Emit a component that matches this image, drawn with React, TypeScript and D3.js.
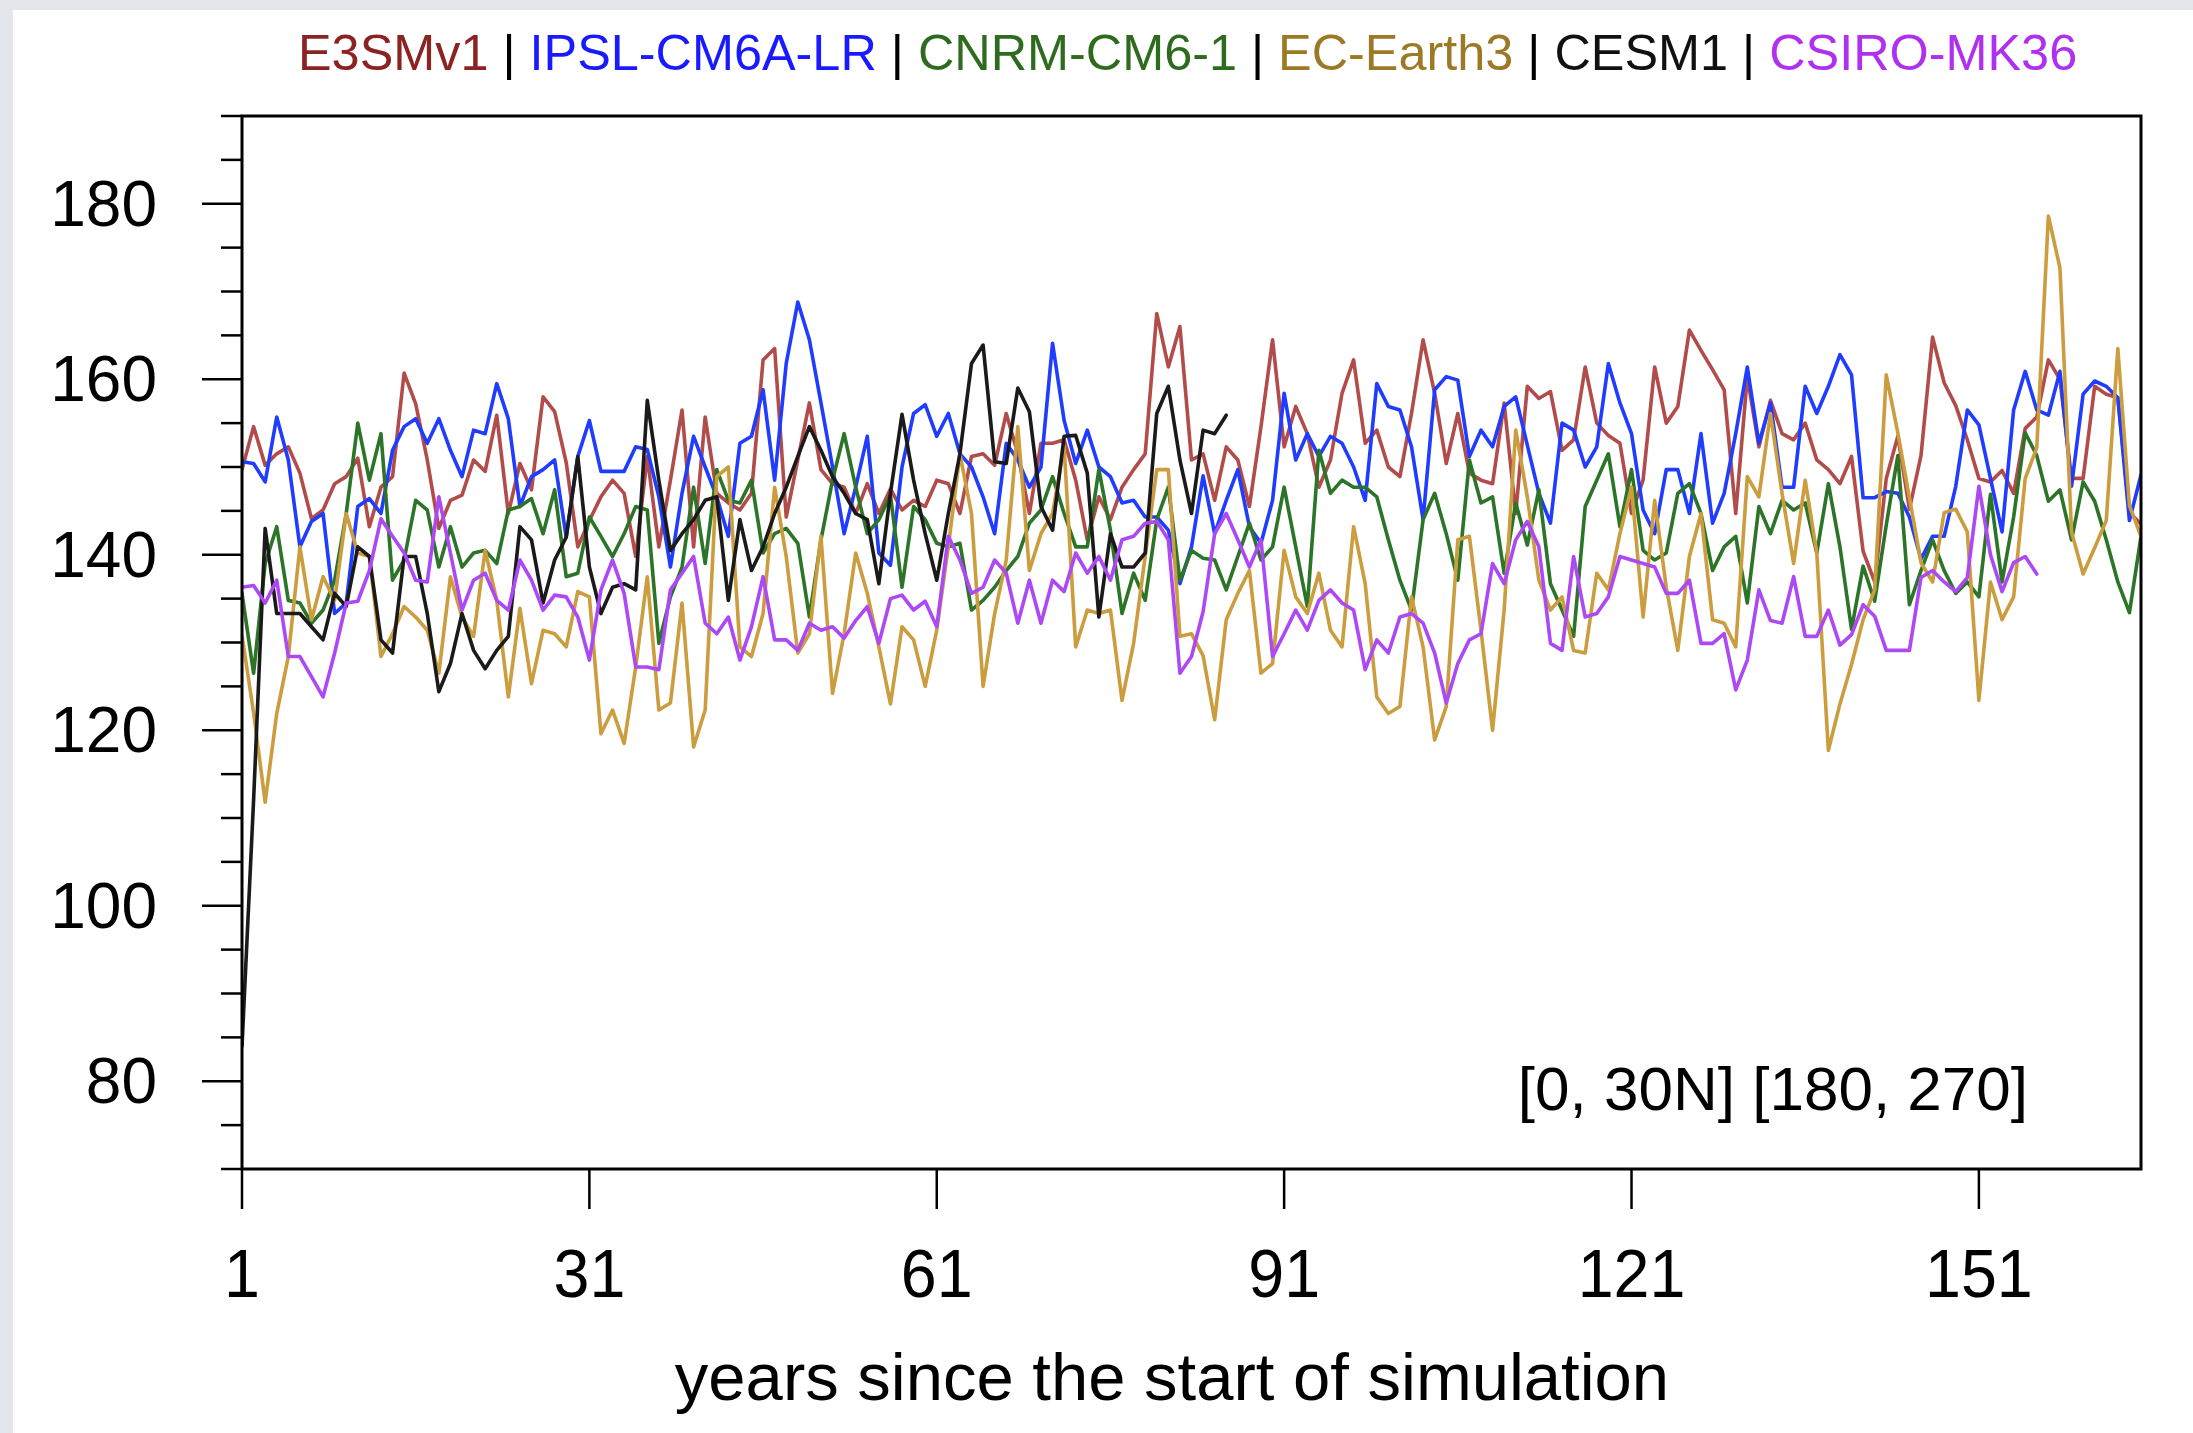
import React from 'react';
import * as d3 from 'd3';

// annual series, year 1 first
const e3smv1 = [
  149.7, 154.6, 150.2, 151.5, 152.3, 149.3, 144.1, 145.1, 148.1, 148.9,
  151.0, 143.2, 147.7, 148.9, 160.7, 157.2, 150.8, 143.0, 146.2, 146.8,
  150.8, 149.5, 155.9, 144.7, 150.4, 147.4, 158.0, 156.3, 150.5, 140.9,
  143.9, 146.6, 148.5, 147.0, 139.8, 151.2, 140.9, 148.5, 156.5, 140.9,
  155.7, 147.0, 145.9, 145.1, 147.0, 162.2, 163.5, 144.3, 150.8, 157.3,
  149.7, 148.1, 147.7, 144.7, 148.1, 144.7, 147.5, 145.1, 146.2, 145.5,
  148.5, 148.1, 144.7, 151.2, 151.5, 150.2, 156.1, 151.5, 144.7, 152.7,
  152.7, 153.1, 148.5, 141.7, 146.6, 144.0, 147.7, 149.7, 151.5, 167.5,
  161.4, 166.0, 150.8, 151.5, 146.2, 152.3, 150.8, 145.5, 154.6, 164.5,
  152.3, 156.9, 153.8, 147.7, 150.8, 158.4, 162.2, 152.7, 154.2, 150.0,
  148.9, 156.1, 164.5, 158.4, 150.4, 156.1, 149.3, 148.5, 148.1, 157.3,
  144.7, 159.2, 157.8, 158.6, 151.9, 153.1, 161.4, 155.0, 153.6, 152.7,
  144.7, 148.5, 161.4, 155.0, 156.9, 165.6, 163.3, 161.1, 158.8, 144.7,
  160.3, 152.3, 157.6, 153.8, 153.1, 155.0, 150.8, 149.7, 148.1, 151.2,
  140.4, 136.9, 148.7, 153.5, 145.2, 151.3, 164.8, 159.6, 157.0, 153.1,
  148.7, 148.3, 149.6, 147.0, 154.4, 155.7, 162.2, 160.0, 148.7, 148.7,
  159.2, 158.3, 157.9, 144.8, 143.5,
];

const ipslCm6aLr = [
  150.6, 150.4, 148.3, 155.7, 150.8, 140.9, 143.8, 144.7, 133.3, 134.5,
  145.5, 146.4, 144.7, 151.9, 154.6, 155.5, 152.7, 155.5, 151.9, 148.9,
  154.2, 153.8, 159.5, 155.5, 145.5, 148.9, 149.7, 150.8, 142.0, 151.2,
  155.3, 149.5, 149.5, 149.5, 152.3, 152.0, 146.6, 138.6, 147.0, 153.5,
  150.0, 146.6, 142.1, 152.7, 153.5, 158.8, 148.5, 161.8, 168.8, 164.5,
  157.3, 150.0, 142.4, 147.7, 153.5, 140.2, 138.8, 150.0, 156.1, 157.1,
  153.5, 156.1, 151.5, 150.0, 146.6, 142.4, 152.7, 150.8, 147.7, 150.0,
  164.1, 155.3, 150.4, 154.2, 150.0, 148.9, 145.9, 146.2, 144.3, 144.3,
  142.8, 136.7, 140.9, 149.0, 142.4, 146.2, 149.7, 143.2, 141.3, 146.2,
  158.4, 150.8, 153.8, 151.2, 153.5, 152.7, 150.0, 146.2, 159.5, 156.9,
  156.5, 152.3, 144.0, 158.8, 160.3, 159.9, 151.2, 154.2, 152.3, 156.9,
  158.0, 152.5, 147.0, 143.6, 155.0, 154.2, 150.0, 152.3, 161.8, 157.3,
  153.8, 145.1, 142.4, 149.7, 149.7, 144.7, 153.8, 143.6, 147.0, 153.8,
  161.4, 152.7, 157.3, 147.7, 147.7, 159.2, 156.1, 159.2, 162.8, 160.5,
  146.5, 146.5, 147.2, 147.0, 144.3, 139.5, 142.1, 142.1, 147.8, 156.5,
  154.8, 148.7, 142.6, 156.5, 160.9, 156.5, 155.9, 160.9, 147.8, 158.3,
  159.8, 159.2, 157.9, 143.9, 149.1,
];

const cnrmCm61 = [
  135.6, 126.5, 139.0, 143.2, 134.8, 134.5, 132.2, 133.7, 137.1, 144.7,
  155.0, 148.5, 153.8, 137.1, 139.4, 146.2, 145.1, 138.6, 143.2, 138.6,
  140.2, 140.5, 139.0, 145.1, 145.5, 146.4, 142.4, 147.4, 137.5, 137.9,
  144.3, 142.1, 139.8, 142.4, 145.5, 145.1, 129.9, 135.2, 138.6, 147.7,
  139.0, 149.7, 146.2, 145.9, 148.5, 140.2, 142.4, 143.0, 141.3, 132.9,
  141.7, 148.5, 153.8, 147.7, 142.4, 144.0, 146.8, 136.3, 145.5, 144.0,
  141.3, 140.9, 141.3, 133.7, 134.8, 136.3, 138.2, 139.8, 143.6, 145.1,
  148.9, 144.7, 140.9, 140.9, 149.7, 142.8, 133.3, 137.9, 134.8, 144.0,
  147.7, 137.1, 140.5, 139.6, 139.4, 136.0, 139.8, 143.6, 139.4, 140.9,
  147.7, 140.9, 134.1, 151.9, 147.0, 148.5, 147.7, 147.7, 146.6, 141.7,
  137.1, 133.7, 144.0, 147.0, 142.4, 137.1, 150.8, 145.9, 146.6, 137.9,
  145.9, 141.1, 147.4, 136.7, 133.7, 130.7, 145.5, 148.5, 151.5, 143.2,
  149.7, 140.5, 139.4, 140.2, 147.0, 148.1, 144.7, 138.2, 140.9, 142.1,
  134.5, 145.5, 142.4, 146.2, 145.1, 145.9, 140.2, 148.1, 140.9, 131.5,
  138.7, 134.7, 143.4, 151.3, 134.3, 138.2, 141.7, 138.2, 135.6, 136.9,
  135.2, 146.9, 136.9, 144.3, 153.9, 151.3, 146.1, 147.4, 141.7, 148.3,
  146.1, 141.7, 136.9, 133.4, 142.1,
];

const ecEarth3 = [
  130.8, 122.0, 111.8, 121.9, 128.4, 140.9, 132.6, 137.5, 134.8, 144.7,
  140.2, 139.8, 128.4, 131.0, 134.1, 132.9, 131.4, 126.5, 137.5, 132.9,
  130.7, 140.5, 134.8, 123.8, 133.9, 125.3, 131.4, 131.0, 129.5, 135.8,
  135.2, 119.6, 122.3, 118.5, 127.2, 137.5, 122.3, 123.1, 134.5, 118.1,
  122.3, 148.9, 150.0, 129.5, 128.4, 133.3, 147.7, 139.8, 128.8, 131.0,
  142.1, 124.2, 131.0, 140.2, 135.6, 129.5, 123.0, 131.8, 130.3, 125.0,
  131.4, 140.9, 151.5, 144.7, 125.0, 133.3, 139.4, 154.6, 138.2, 142.4,
  144.7, 152.3, 129.5, 133.7, 133.3, 133.7, 123.4, 129.9, 139.8, 149.7,
  149.7, 130.7, 131.0, 128.5, 121.2, 132.6, 135.6, 138.2, 126.5, 127.6,
  140.5, 135.2, 133.3, 137.9, 131.4, 129.5, 143.2, 136.7, 123.8, 121.9,
  122.7, 135.2, 129.5, 118.9, 122.7, 141.7, 142.1, 131.4, 120.0, 133.7,
  154.2, 146.6, 137.1, 133.7, 135.2, 129.1, 128.8, 137.9, 136.0, 142.4,
  147.7, 132.9, 146.2, 136.3, 129.1, 139.8, 144.7, 132.6, 132.2, 129.5,
  148.9, 146.6, 156.1, 147.0, 139.0, 148.5, 140.2, 117.7, 123.0, 127.5,
  132.6, 136.0, 160.5, 153.9, 146.5, 139.1, 136.9, 144.8, 145.2, 142.6,
  123.4, 136.9, 132.6, 135.2, 148.7, 152.2, 178.6, 172.7, 142.6, 137.8,
  140.8, 143.9, 163.5, 145.6, 142.1,
];

const cesm1 = [
  84.0, 112.0, 143.0, 133.3, 133.3, 133.3, 131.8, 130.3, 135.6, 134.1,
  140.9, 139.8, 130.3, 128.8, 139.8, 139.8, 133.3, 124.4, 127.6, 133.3,
  129.1, 127.0, 129.1, 130.7, 143.2, 141.7, 134.5, 139.4, 142.0, 151.2,
  138.6, 133.3, 136.3, 136.7, 136.0, 157.6, 148.5, 140.5, 142.4, 144.0,
  146.2, 146.6, 134.8, 144.0, 138.2, 140.9, 144.7, 147.7, 151.2, 154.6,
  151.9, 148.9, 147.0, 144.7, 144.0, 136.7, 147.0, 156.0, 148.5, 142.4,
  137.1, 144.7, 151.5, 161.8, 163.9, 150.6, 150.4, 159.0, 156.3, 145.5,
  142.8, 153.5, 153.6, 149.3, 132.9, 142.4, 138.6, 138.6, 140.2, 156.1,
  159.2, 150.8, 144.7, 154.2, 153.8, 155.9,
];

const csiroMk36 = [
  136.3, 136.5, 134.5, 137.1, 128.4, 128.4, 126.1, 123.8, 128.8, 134.5,
  134.7, 138.2, 144.1, 142.1, 140.2, 137.1, 136.9, 146.6, 140.2, 133.7,
  137.1, 137.9, 134.8, 133.7, 139.4, 137.1, 133.7, 135.4, 135.2, 132.9,
  128.0, 136.0, 139.4, 135.6, 127.2, 127.2, 126.9, 136.0, 137.9, 139.8,
  132.2, 131.0, 132.9, 128.0, 131.8, 137.5, 130.3, 130.3, 129.1, 132.2,
  131.4, 131.8, 130.5, 132.5, 134.1, 129.9, 135.0, 135.4, 133.7, 134.7,
  131.8, 142.1, 139.4, 135.6, 136.3, 139.4, 137.9, 132.2, 137.1, 132.2,
  137.1, 135.8, 140.2, 137.9, 139.8, 137.1, 141.7, 142.1, 143.6, 143.8,
  141.7, 126.5, 128.4, 133.5, 142.4, 144.7, 141.7, 138.6, 141.7, 128.4,
  131.0, 133.7, 131.4, 134.8, 136.0, 134.5, 133.7, 126.9, 130.3, 128.8,
  132.9, 133.3, 132.2, 128.8, 123.1, 127.6, 130.3, 131.0, 139.0, 136.7,
  141.7, 143.8, 140.9, 129.9, 129.1, 139.8, 132.9, 133.3, 135.2, 139.8,
  139.4, 139.0, 138.6, 135.6, 135.6, 137.1, 129.9, 129.9, 131.0, 124.6,
  128.0, 136.0, 132.5, 132.2, 137.5, 130.7, 130.7, 133.7, 129.7, 130.9,
  134.3, 133.0, 129.1, 129.1, 129.1, 137.4, 138.2, 136.9, 135.8, 137.4,
  147.8, 140.0, 135.8, 139.1, 139.8, 137.8,
];

const seriesNames = ['E3SMv1', 'IPSL-CM6A-LR', 'CNRM-CM6-1', 'EC-Earth3', 'CESM1', 'CSIRO-MK36'];
const seriesValues = [e3smv1, ipslCm6aLr, cnrmCm61, ecEarth3, cesm1, csiroMk36];
const lineColors = ['#b24c4a', '#1f3cff', '#2c7528', '#cc9d3f', '#1a1a1a', '#ad48f5'];
const labelColors = ['#8c2323', '#1a1aff', '#2f6b1f', '#9c7a25', '#111111', '#b030f0'];

const xTicks = [1, 31, 61, 91, 121, 151];
const yTicks = [80, 100, 120, 140, 160, 180];
const regionLabel = '[0, 30N] [180, 270]';
const xTitle = 'years since the start of simulation';

const font = 'Liberation Sans, Arial, Helvetica, sans-serif';

export default function App() {
  const width = 2193;
  const height = 1433;
  // plot box
  const left = 242;
  const right = 2141;
  const top = 116;
  const bottom = 1169;

  const x = d3.scaleLinear().domain([1, 165]).range([left, right]);
  const y = d3.scaleLinear().domain([70, 190]).range([bottom, top]);

  const line = d3
    .line<number>()
    .x((d, i) => x(i + 1))
    .y((d) => y(d));

  const minorTicks = d3.range(70, 191, 5).filter((t) => !yTicks.includes(t));

  return (
    <div style={{ position: 'absolute', left: 0, top: 0 }}>
      <svg width={width} height={height} style={{ display: 'block' }} fontFamily={font}>
        <defs>
          <clipPath id="plot-clip">
            <rect x={left} y={top} width={right - left} height={bottom - top} />
          </clipPath>
        </defs>

        {/* page background */}
        <rect x={0} y={0} width={width} height={height} fill="#e3e7ec" />
        <rect x={13} y={10} width={width - 13} height={height - 10} fill="#ffffff" />

        {/* title: model names */}
        <text x={298} y={70} fontSize={50.4}>
          {seriesNames.map((name, i) => (
            <React.Fragment key={name}>
              {i > 0 && <tspan fill="#000000">{' | '}</tspan>}
              <tspan fill={labelColors[i]}>{name}</tspan>
            </React.Fragment>
          ))}
        </text>

        {/* series */}
        <g clipPath="url(#plot-clip)" fill="none" strokeLinejoin="round" strokeLinecap="round">
          {seriesValues.map((vals, i) => (
            <path key={seriesNames[i]} d={line(vals) || ''} stroke={lineColors[i]} strokeWidth={3.6} />
          ))}
        </g>

        {/* ticks */}
        <g stroke="#000000" strokeWidth={2.5}>
          {yTicks.map((t) => (
            <line key={t} x1={left - 40} x2={left} y1={y(t)} y2={y(t)} />
          ))}
          {minorTicks.map((t) => (
            <line key={t} x1={left - 21} x2={left} y1={y(t)} y2={y(t)} />
          ))}
          {xTicks.map((t) => (
            <line key={t} x1={x(t)} x2={x(t)} y1={bottom} y2={bottom + 40} />
          ))}
        </g>

        {/* frame */}
        <rect
          x={left}
          y={top}
          width={right - left}
          height={bottom - top}
          fill="none"
          stroke="#000000"
          strokeWidth={3}
        />

        {/* y tick labels */}
        {yTicks.map((t) => (
          <text key={t} x={157} y={y(t) + 22} textAnchor="end" fontSize={64} fill="#000000">
            {t}
          </text>
        ))}

        {/* x tick labels */}
        {xTicks.map((t) => (
          <text
            key={t}
            transform={`translate(${x(t)},1297) scale(0.95,1)`}
            textAnchor="middle"
            fontSize={68}
            fill="#000000"
          >
            {t}
          </text>
        ))}

        {/* region annotation */}
        <text x={2028} y={1110} textAnchor="end" fontSize={62} fill="#000000">
          {regionLabel}
        </text>

        {/* x axis title */}
        <text x={1172} y={1400} textAnchor="middle" fontSize={67} fill="#000000">
          {xTitle}
        </text>
      </svg>
    </div>
  );
}
